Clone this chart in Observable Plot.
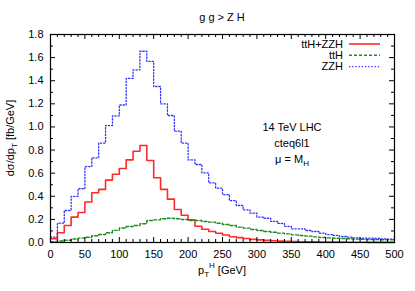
<!DOCTYPE html>
<html><head><meta charset="utf-8">
<script src="https://cdn.jsdelivr.net/npm/d3@7"></script>
<script src="https://cdn.jsdelivr.net/npm/@observablehq/plot@0.6"></script>
<style>body{margin:0;background:#fff}</style>
</head><body><div id="chart"></div>
<script>
// bin lower edges (10 GeV bins)
const pT = d3.range(0, 500, 10);
const ttH_ZZH = [0.032, 0.084, 0.147, 0.22, 0.26, 0.35, 0.43, 0.46, 0.54, 0.59,
  0.64, 0.715, 0.79, 0.84, 0.71, 0.56, 0.46, 0.375, 0.285, 0.236,
  0.196, 0.14, 0.115, 0.095, 0.08, 0.065, 0.05, 0.042, 0.034, 0.027,
  0.023, 0.018, 0.015, 0.012, 0.01, 0.008, 0.007, 0.006, 0.005, 0.004,
  0.004, 0.003, 0.003, 0.002, 0.002, 0.002, 0.001, 0.001, 0.001, 0.001];
const ttH = [0.008, 0.013, 0.02, 0.03, 0.038, 0.046, 0.058, 0.069, 0.085, 0.105,
  0.125, 0.138, 0.147, 0.162, 0.19, 0.196, 0.205, 0.21, 0.205, 0.199,
  0.19, 0.19, 0.182, 0.176, 0.167, 0.156, 0.147, 0.133, 0.124, 0.112,
  0.104, 0.095, 0.089, 0.081, 0.075, 0.066, 0.061, 0.055, 0.049, 0.043,
  0.04, 0.037, 0.035, 0.032, 0.029, 0.028, 0.026, 0.025, 0.024, 0.023];
const ZZH = [0.046, 0.167, 0.277, 0.40, 0.465, 0.657, 0.733, 0.86, 1.012, 1.095,
  1.19, 1.42, 1.494, 1.655, 1.568, 1.35, 1.20, 1.099, 0.963, 0.86,
  0.715, 0.675, 0.603, 0.516, 0.47, 0.415, 0.363, 0.32, 0.283, 0.254,
  0.22, 0.21, 0.182, 0.165, 0.14, 0.118, 0.118, 0.104, 0.095, 0.081,
  0.069, 0.061, 0.052, 0.046, 0.04, 0.037, 0.037, 0.035, 0.032, 0.029];
const seriesNames = ["ttH+ZZH", "ttH", "ZZH"];
const xTicks = [0, 50, 100, 150, 200, 250, 300, 350, 400, 450, 500];
const yTicks = [0, 0.2, 0.4, 0.6, 0.8, 1.0, 1.2, 1.4, 1.6, 1.8];
const xMinor = [10,20,30,40,60,70,80,90,110,120,130,140,160,170,180,190,210,220,230,240,260,270,280,290,310,320,330,340,360,370,380,390,410,420,430,440,460,470,480,490];
const yMinor = [0.1, 0.3, 0.5, 0.7, 0.9, 1.1, 1.3, 1.5, 1.7];

const styles = [
  {stroke: "#ff2a2a", strokeWidth: 1.6, dash: null},
  {stroke: "#1f8a1f", strokeWidth: 1.4, dash: "3,2"},
  {stroke: "#3030ff", strokeWidth: 1.3, dash: "1.3,1.9"}
];
const seriesVals = [ttH_ZZH, ttH, ZZH];
const xEnd = pT[pT.length - 1] + 10;
function steps(vals) {
  const d = pT.map((x, i) => ({x, v: vals[i]}));
  d.push({x: xEnd, v: vals[vals.length - 1]});
  return d;
}

const W = 415, H = 291, mL = 50, mR = 21, mT = 34, mB = 49;
const fw = W - mL - mR, fh = H - mT - mB;

const lineMarks = seriesVals.map((vals, i) => Plot.line(steps(vals), {
  x: "x", y: "v", curve: "step-after",
  stroke: styles[i].stroke, strokeWidth: styles[i].strokeWidth,
  strokeDasharray: styles[i].dash
}));

const chart = Plot.plot({
  width: W, height: H,
  marginLeft: mL, marginRight: mR, marginTop: mT, marginBottom: mB,
  style: {fontFamily: "'Liberation Sans', Arial, sans-serif", fontSize: "11px", background: "white", color: "black"},
  x: {domain: [0, 500]},
  y: {domain: [0, 1.8]},
  marks: [
    ...lineMarks,
    // inward ticks, all four sides
    Plot.tickX(xTicks, {x: d => d, insetTop: fh - 5, stroke: "black"}),
    Plot.tickX(xTicks, {x: d => d, insetBottom: fh - 5, stroke: "black"}),
    Plot.tickX(xMinor, {x: d => d, insetTop: fh - 3, stroke: "black"}),
    Plot.tickX(xMinor, {x: d => d, insetBottom: fh - 3, stroke: "black"}),
    Plot.tickY(yTicks, {y: d => d, insetRight: fw - 5, stroke: "black"}),
    Plot.tickY(yTicks, {y: d => d, insetLeft: fw - 5, stroke: "black"}),
    Plot.tickY(yMinor, {y: d => d, insetRight: fw - 3, stroke: "black"}),
    Plot.tickY(yMinor, {y: d => d, insetLeft: fw - 3, stroke: "black"}),
    Plot.frame({stroke: "black", strokeWidth: 1.2}),
    Plot.axisX({ticks: xTicks, tickSize: 0, tickPadding: 8, label: null, tickFormat: d => String(d), fontSize: 11}),
    Plot.axisY({ticks: yTicks, tickSize: 0, tickPadding: 7, label: null, tickFormat: d3.format(".1f"), fontSize: 11})
  ]
});
document.getElementById("chart").appendChild(chart);

const svg = d3.select(chart);
const g = svg.append("g").attr("font-family", "'Liberation Sans', Arial, sans-serif").attr("font-size", 11).attr("fill", "black");
// title
g.append("text").attr("x", mL + fw / 2).attr("y", 21).attr("text-anchor", "middle").text("g g > Z H");
// y label
const yl = g.append("text").attr("text-anchor", "middle").attr("transform", `translate(14,${mT + fh / 2}) rotate(-90)`);
yl.append("tspan").text("dσ/dp");
yl.append("tspan").attr("dy", 3).attr("font-size", 8).text("T");
yl.append("tspan").attr("dy", -3).text(" [fb/GeV]");
// x label
const xl = g.append("text").attr("x", mL + fw / 2).attr("y", 274).attr("text-anchor", "middle");
xl.append("tspan").text("p");
xl.append("tspan").attr("dy", 3).attr("font-size", 8).text("T");
xl.append("tspan").attr("dy", -9).attr("font-size", 8).text("H");
xl.append("tspan").attr("dy", 6).text(" [GeV]");
// legend
seriesNames.forEach((name, i) => {
  const y = 44 + i * 11.3;
  g.append("text").attr("x", 343).attr("y", y).attr("dy", "0.35em").attr("text-anchor", "end").text(name);
  g.append("line").attr("x1", 349).attr("x2", 380).attr("y1", y).attr("y2", y)
    .attr("stroke", styles[i].stroke).attr("stroke-width", styles[i].strokeWidth)
    .attr("stroke-dasharray", styles[i].dash);
});
// annotations
g.append("text").attr("x", 292).attr("y", 131).text("14 TeV LHC");
g.append("text").attr("x", 292).attr("y", 147).text("cteq6l1");
const mu = g.append("text").attr("x", 292).attr("y", 163);
mu.append("tspan").text("μ = M");
mu.append("tspan").attr("dy", 3).attr("font-size", 8).text("H");
</script>
</body></html>
